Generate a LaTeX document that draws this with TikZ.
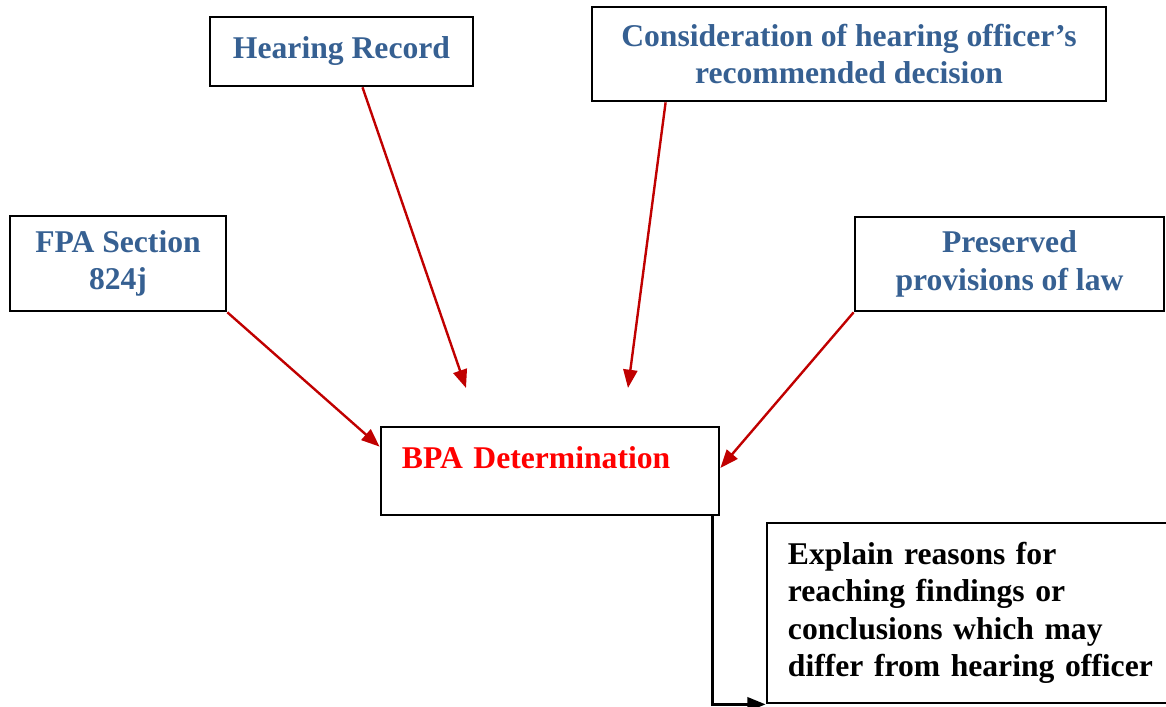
\documentclass[tikz,border=0pt]{standalone}
\usepackage{fontspec}
\setmainfont{Liberation Serif}
\usepackage{tikz}
\usetikzlibrary{arrows.meta}

\definecolor{headblue}{HTML}{366092}
\definecolor{arrowred}{HTML}{C00000}

\begin{document}
\begin{tikzpicture}[x=0.025cm, y=0.025cm,
      box/.style={draw=black, line width=1.9pt, fill=white, inner sep=0pt,
         font=\fontsize{22.5}{26.7}\selectfont\bfseries, align=center},
      feed/.style={draw=arrowred, line width=1.7pt,
         -{Triangle[length=13pt, width=10pt]}}]
      \useasboundingbox (0,0) rectangle (1166,707);
      \clip (0,0) rectangle (1166,707);

      \node (rec) at (341.5,655.5) [box, text=headblue,
         minimum width=6.575cm, minimum height=1.725cm] {Hearing Record};
      \node (cons) at (849,653) [box, text=headblue,
         minimum width=12.85cm, minimum height=2.35cm]
         {Consideration of hearing officer’s\\recommended decision};
      \node (fpa) at (118,443.5) [box, text=headblue,
         minimum width=5.4cm, minimum height=2.375cm] {FPA Section\\824j};
      \node (law) at (1009.5,443) [box, text=headblue,
         minimum width=7.725cm, minimum height=2.35cm]
         {Preserved\\provisions of law};
      \node (bpa) at (550,236) [box, text=red, align=left,
         minimum width=8.45cm, minimum height=2.2cm, inner xsep=0.525cm,
         text width=7.4cm, text height=0.55cm, text depth=0.65cm]
         {BPA Determination};
      \node (expl) at (969.5,94) [box, text=black, align=left,
         minimum width=10.125cm, minimum height=4.5cm, inner xsep=0.525cm,
         text width=9.075cm]
         {Explain reasons for\\reaching findings or\\conclusions which may\\\mbox{differ from hearing officer}};

      \coordinate (recend) at (466,319);
      \coordinate (consend) at (628,319);

      \draw [feed] ([xshift=0.525cm]rec.south) -- (recend);
      \draw [feed] ([xshift=1.875cm]cons.south west) -- (consend);
      \draw [feed] (fpa.south east) -- ([yshift=-0.525cm]bpa.north west);
      \draw [feed] (law.south west) -- ([yshift=0.075cm]bpa.east);
      \draw [line width=1.9pt, -{Triangle[length=13pt, width=10pt]}]
         ([xshift=-0.2cm]bpa.south east) |- (expl.south west);
   \end{tikzpicture}
\end{document}
